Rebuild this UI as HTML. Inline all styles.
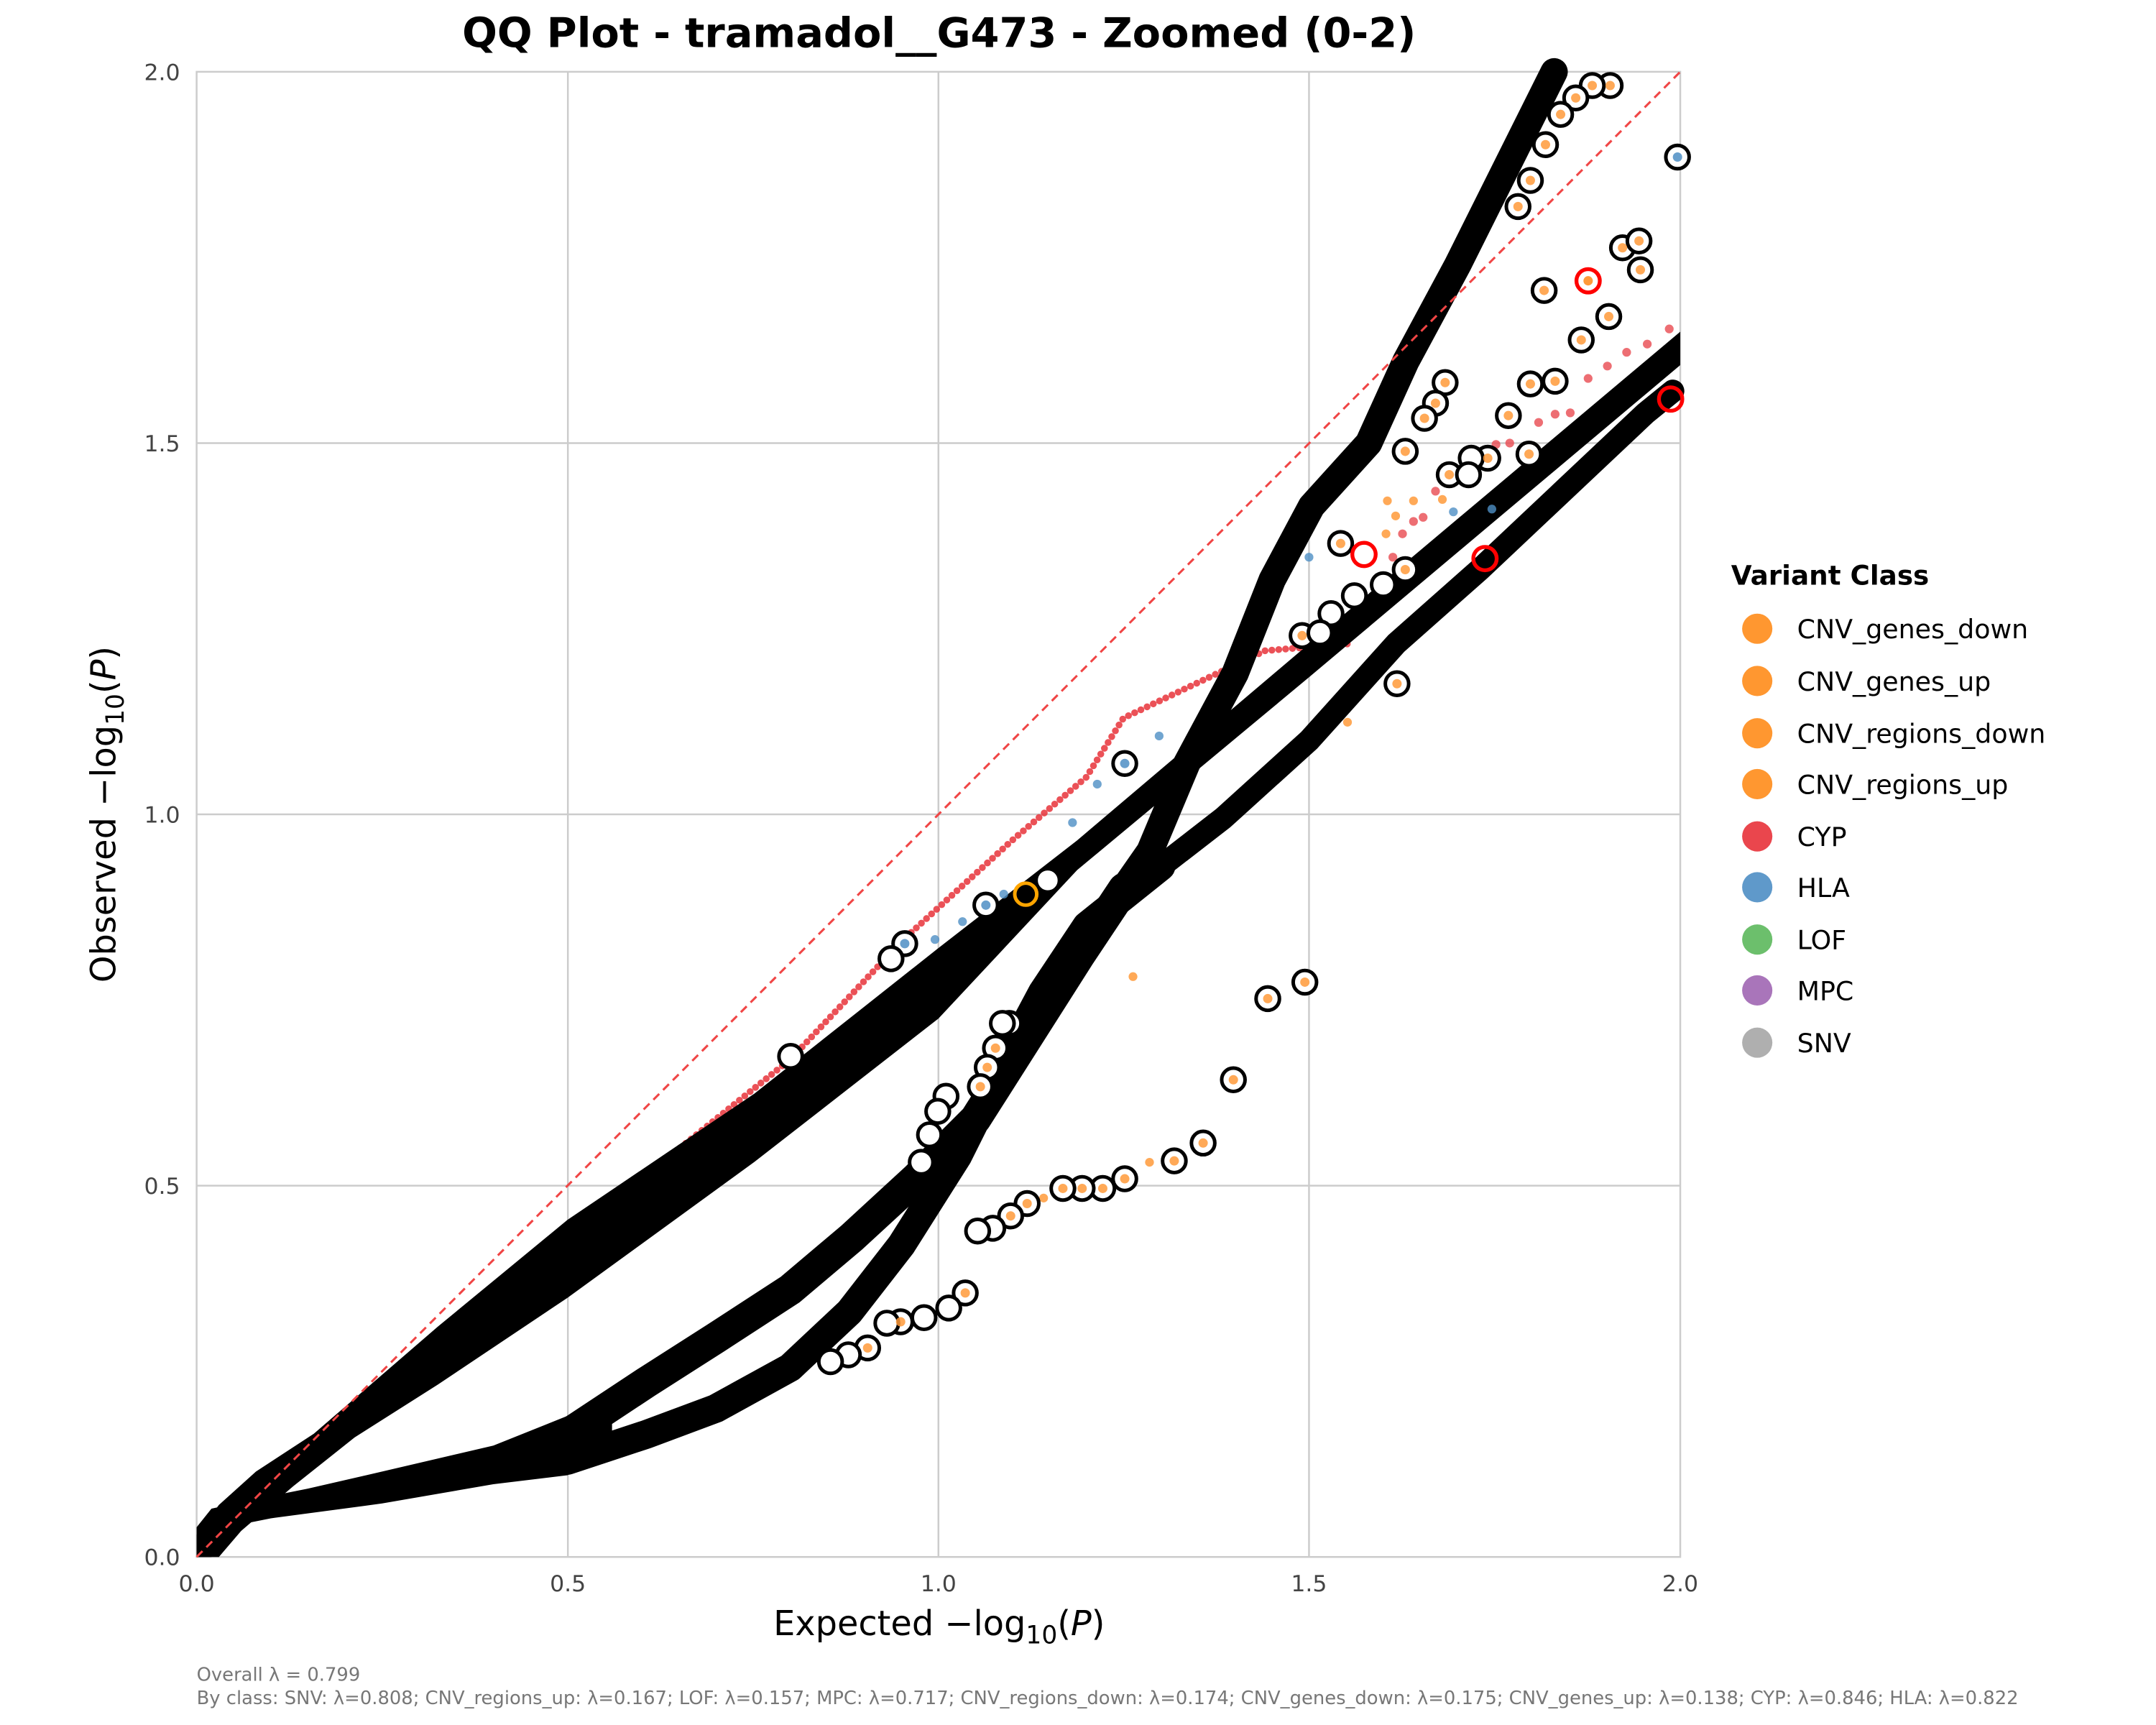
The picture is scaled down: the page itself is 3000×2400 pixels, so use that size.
<!DOCTYPE html>
<html><head><meta charset="utf-8"><style>html,body{margin:0;padding:0;background:#fff}svg{display:block}</style></head>
<body>
<svg width="3000" height="2400" viewBox="0 0 1568 1254" xmlns="http://www.w3.org/2000/svg" font-family="DejaVu Sans, Liberation Sans, sans-serif">
<rect width="1568" height="1254" fill="#fff"/>
<g stroke="#cccccc" stroke-width="1.3">
<line x1="413" y1="52" x2="413" y2="1132"/><line x1="682.5" y1="52" x2="682.5" y2="1132"/><line x1="952" y1="52" x2="952" y2="1132"/>
<line x1="143" y1="862" x2="1222" y2="862"/><line x1="143" y1="592" x2="1222" y2="592"/><line x1="143" y1="322" x2="1222" y2="322"/>
<rect x="143" y="52" width="1079" height="1080" fill="none"/>
</g>
<polyline fill="none" stroke="#e8323a" stroke-opacity="0.85" stroke-width="5" stroke-linecap="round" stroke-dasharray="0 5" points="305,981 413,894 494,835 575,770 656,684 736,611 790,565 817,522 920,473 980,468"/>
<g transform="matrix(539.5 0 0 -540 143 1132)">
<polygon fill="#000" points="0,0.03 0.03,0.07 0.08,0.115 0.158,0.166 0.325,0.31 0.5,0.454 0.752,0.624 1.0,0.82 1.187,0.965 1.5,1.23 1.75,1.44 2,1.65 2,1.605 1.75,1.395 1.5,1.185 1.187,0.925 1.0,0.725 0.752,0.532 0.5,0.349 0.325,0.232 0.213,0.161 0.13,0.095 0.06,0.035 0.03,0 0,0"/>
<polygon fill="#000" points="0,0.04 0.02,0.065 0.08,0.078 0.15,0.092 0.25,0.115 0.4,0.15 0.5,0.19 0.56,0.215 0.56,0.14 0.5,0.11 0.4,0.098 0.25,0.072 0.1,0.052 0.04,0.04 0.02,0 0,0"/>
<g fill="none" stroke="#000" stroke-linecap="round" stroke-linejoin="round">
<polyline vector-effect="non-scaling-stroke" stroke-width="44" points="0.5,0.165 0.606,0.235 0.7,0.295 0.8,0.36 0.883,0.43 0.97,0.51 1.05,0.59 1.12,0.7 1.19,0.81 1.25,0.9"/>
<polyline vector-effect="non-scaling-stroke" stroke-width="38" points="1.25,0.9 1.285,0.95 1.335,1.069 1.40,1.19 1.45,1.316 1.503,1.415 1.58,1.50 1.63,1.61 1.7,1.74 1.76,1.86 1.83,2.0"/>
<polyline vector-effect="non-scaling-stroke" stroke-width="40" points="0.5,0.13 0.606,0.165 0.7,0.2 0.8,0.255 0.88,0.33 0.95,0.42 1.026,0.54 1.076,0.64 1.14,0.76 1.2,0.85 1.3,0.93"/>
<polyline vector-effect="non-scaling-stroke" stroke-width="32" points="1.3,0.93 1.384,0.995 1.5,1.1 1.617,1.23 1.73,1.33 1.953,1.54 1.99,1.57"/>
</g>
</g>
<line x1="143" y1="1132" x2="1222" y2="52" stroke="#f04545" stroke-width="1.6" stroke-dasharray="6 4"/>
<g fill="#e84a50" fill-opacity="0.8">
<circle cx="1214" cy="239" r="3.2"/><circle cx="1198" cy="250" r="3.2"/><circle cx="1183" cy="256" r="3.2"/><circle cx="1169" cy="266" r="3.2"/><circle cx="1155" cy="275" r="3.2"/><circle cx="1142" cy="300" r="3.2"/><circle cx="1131" cy="301" r="3.2"/><circle cx="1119" cy="307" r="3.2"/><circle cx="1098" cy="322" r="3.2"/><circle cx="1088" cy="323" r="3.2"/><circle cx="1044" cy="357" r="3.2"/><circle cx="1035" cy="376" r="3.2"/><circle cx="1028" cy="379" r="3.2"/><circle cx="1020" cy="388" r="3.2"/><circle cx="1013" cy="405" r="3.2"/>
</g>
<g fill="#ff9a3a" fill-opacity="0.85">
<circle cx="1009" cy="364" r="3.2"/><circle cx="1028" cy="364" r="3.2"/><circle cx="1015" cy="375" r="3.2"/><circle cx="1049" cy="363" r="3.2"/><circle cx="1008" cy="388" r="3.2"/><circle cx="980" cy="525" r="3.2"/><circle cx="836" cy="845" r="3.2"/><circle cx="759" cy="871" r="3.2"/><circle cx="824" cy="710" r="3.2"/>
</g>
<g fill="#4e8ec4" fill-opacity="0.8">
<circle cx="1057" cy="372" r="3.2"/><circle cx="1085" cy="370" r="3.2"/><circle cx="843" cy="535" r="3.2"/><circle cx="798" cy="570" r="3.2"/><circle cx="780" cy="598" r="3.2"/><circle cx="730" cy="650" r="3.2"/><circle cx="700" cy="670" r="3.2"/><circle cx="680" cy="683" r="3.2"/><circle cx="952" cy="405" r="3.2"/>
</g>
<g fill="#fff" stroke="#000" stroke-width="2.6">
<circle cx="1171" cy="62" r="8.5"/><circle cx="1158" cy="62" r="8.5"/><circle cx="1146" cy="71" r="8.5"/><circle cx="1135" cy="83" r="8.5"/><circle cx="1124" cy="105" r="8.5"/><circle cx="1113" cy="131" r="8.5"/><circle cx="1104" cy="150" r="8.5"/><circle cx="1220" cy="114" r="8.5"/><circle cx="1180" cy="180" r="8.5"/><circle cx="1192" cy="175" r="8.5"/><circle cx="1193" cy="196" r="8.5"/><circle cx="1123" cy="211" r="8.5"/><circle cx="1170" cy="230" r="8.5"/><circle cx="1150" cy="247" r="8.5"/><circle cx="1113" cy="279" r="8.5"/><circle cx="1131" cy="277" r="8.5"/><circle cx="1097" cy="302" r="8.5"/><circle cx="1112" cy="330" r="8.5"/><circle cx="1082" cy="333" r="8.5"/><circle cx="1070" cy="333" r="8.5"/><circle cx="1054" cy="345" r="8.5"/><circle cx="1068" cy="345" r="8.5"/><circle cx="1051" cy="278" r="8.5"/><circle cx="1044" cy="293" r="8.5"/><circle cx="1036" cy="304" r="8.5"/><circle cx="1022" cy="328" r="8.5"/>
<circle cx="1016" cy="497" r="8.5"/><circle cx="975" cy="395" r="8.5"/><circle cx="947" cy="462" r="8.5"/><circle cx="968" cy="446" r="8.5"/><circle cx="985" cy="433" r="8.5"/><circle cx="1006" cy="425" r="8.5"/><circle cx="1022" cy="414" r="8.5"/><circle cx="960" cy="460" r="8.5"/>
<circle cx="949" cy="714" r="8.5"/><circle cx="922" cy="726" r="8.5"/><circle cx="897" cy="785" r="8.5"/><circle cx="875" cy="831" r="8.5"/><circle cx="854" cy="844" r="8.5"/><circle cx="818" cy="857" r="8.5"/><circle cx="802" cy="864" r="8.5"/><circle cx="787" cy="864" r="8.5"/><circle cx="773" cy="864" r="8.5"/><circle cx="747" cy="875" r="8.5"/><circle cx="735" cy="884" r="8.5"/><circle cx="722" cy="893" r="8.5"/><circle cx="711" cy="895" r="8.5"/>
<circle cx="724" cy="762" r="8.5"/><circle cx="718" cy="776" r="8.5"/><circle cx="713" cy="790" r="8.5"/><circle cx="734" cy="744" r="8.5"/><circle cx="729" cy="744" r="8.5"/>
<circle cx="702" cy="940" r="8.5"/><circle cx="690" cy="951" r="8.5"/><circle cx="672" cy="958" r="8.5"/><circle cx="655" cy="961" r="8.5"/><circle cx="645" cy="962" r="8.5"/><circle cx="631" cy="980" r="8.5"/><circle cx="617" cy="985" r="8.5"/><circle cx="604" cy="990" r="8.5"/>
<circle cx="575" cy="768" r="8.5"/><circle cx="658" cy="686" r="8.5"/><circle cx="648" cy="697" r="8.5"/><circle cx="717" cy="658" r="8.5"/><circle cx="818" cy="555" r="8.5"/><circle cx="762" cy="640" r="8.5"/>
<circle cx="688" cy="797" r="8.5"/><circle cx="682" cy="808" r="8.5"/><circle cx="676" cy="825" r="8.5"/><circle cx="670" cy="845" r="8.5"/>
</g>
<g fill="#ff9a3a" fill-opacity="0.85">
<circle cx="1171" cy="62" r="3.4"/><circle cx="1158" cy="62" r="3.4"/><circle cx="1146" cy="71" r="3.4"/><circle cx="1135" cy="83" r="3.4"/><circle cx="1124" cy="105" r="3.4"/><circle cx="1113" cy="131" r="3.4"/><circle cx="1104" cy="150" r="3.4"/><circle cx="1180" cy="180" r="3.4"/><circle cx="1192" cy="175" r="3.4"/><circle cx="1193" cy="196" r="3.4"/><circle cx="1123" cy="211" r="3.4"/><circle cx="1170" cy="230" r="3.4"/><circle cx="1150" cy="247" r="3.4"/><circle cx="1113" cy="279" r="3.4"/><circle cx="1131" cy="277" r="3.4"/><circle cx="1097" cy="302" r="3.4"/><circle cx="1112" cy="330" r="3.4"/><circle cx="1082" cy="333" r="3.4"/><circle cx="1054" cy="345" r="3.4"/><circle cx="1051" cy="278" r="3.4"/><circle cx="1044" cy="293" r="3.4"/><circle cx="1036" cy="304" r="3.4"/><circle cx="1022" cy="328" r="3.4"/><circle cx="1016" cy="497" r="3.4"/><circle cx="975" cy="395" r="3.4"/><circle cx="947" cy="462" r="3.4"/><circle cx="1022" cy="414" r="3.4"/>
<circle cx="949" cy="714" r="3.4"/><circle cx="922" cy="726" r="3.4"/><circle cx="897" cy="785" r="3.4"/><circle cx="875" cy="831" r="3.4"/><circle cx="854" cy="844" r="3.4"/><circle cx="818" cy="857" r="3.4"/><circle cx="802" cy="864" r="3.4"/><circle cx="787" cy="864" r="3.4"/><circle cx="773" cy="864" r="3.4"/><circle cx="747" cy="875" r="3.4"/><circle cx="735" cy="884" r="3.4"/><circle cx="724" cy="762" r="3.4"/><circle cx="718" cy="776" r="3.4"/><circle cx="713" cy="790" r="3.4"/><circle cx="702" cy="940" r="3.4"/><circle cx="655" cy="961" r="3.4"/><circle cx="631" cy="980" r="3.4"/>
</g>
<g fill="#4e8ec4" fill-opacity="0.85"><circle cx="1220" cy="114" r="3.4"/><circle cx="818" cy="555" r="3.4"/><circle cx="717" cy="658" r="3.4"/><circle cx="658" cy="686" r="3.4"/></g>
<circle cx="1155" cy="204" r="8.5" fill="#fff" stroke="#ff0000" stroke-width="2.8"/><circle cx="1155" cy="204" r="3.4" fill="#ff9a3a"/>
<circle cx="992" cy="403" r="8.5" fill="none" stroke="#ff0000" stroke-width="2.8"/>
<circle cx="1215" cy="290" r="8.5" fill="none" stroke="#ff0000" stroke-width="2.8"/>
<circle cx="1080" cy="406" r="8.5" fill="none" stroke="#ff0000" stroke-width="2.8"/>
<circle cx="746" cy="650" r="8" fill="none" stroke="#ffa500" stroke-width="2.6"/>
<g font-size="16.5" fill="#444">
<g text-anchor="middle"><text x="143" y="1157">0.0</text><text x="413" y="1157">0.5</text><text x="682.5" y="1157">1.0</text><text x="952" y="1157">1.5</text><text x="1222" y="1157">2.0</text></g>
<g text-anchor="end"><text x="131" y="1138">0.0</text><text x="131" y="868">0.5</text><text x="131" y="598">1.0</text><text x="131" y="328">1.5</text><text x="131" y="58">2.0</text></g>
</g>
<text x="683" y="34" text-anchor="middle" font-size="30" font-weight="bold">QQ Plot - tramadol__G473 - Zoomed (0-2)</text>
<text x="683" y="1189" text-anchor="middle" font-size="25">Expected −log<tspan font-size="18" dy="6">10</tspan><tspan dy="-6">(</tspan><tspan font-style="italic">P</tspan>)</text>
<text transform="translate(84,592) rotate(-90)" text-anchor="middle" font-size="25">Observed −log<tspan font-size="18" dy="6">10</tspan><tspan dy="-6">(</tspan><tspan font-style="italic">P</tspan>)</text>
<text x="1259" y="425" font-size="19.5" font-weight="bold">Variant Class</text>
<g font-size="19">
<circle cx="1278" cy="457" r="11" fill="#ff8c1a" fill-opacity="0.9"/><text x="1307" y="464">CNV_genes_down</text>
<circle cx="1278" cy="495" r="11" fill="#ff8c1a" fill-opacity="0.9"/><text x="1307" y="502">CNV_genes_up</text>
<circle cx="1278" cy="533" r="11" fill="#ff8c1a" fill-opacity="0.9"/><text x="1307" y="540">CNV_regions_down</text>
<circle cx="1278" cy="570" r="11" fill="#ff8c1a" fill-opacity="0.9"/><text x="1307" y="577">CNV_regions_up</text>
<circle cx="1278" cy="608" r="11" fill="#e8323a" fill-opacity="0.9"/><text x="1307" y="615">CYP</text>
<circle cx="1278" cy="645" r="11" fill="#4e8ec4" fill-opacity="0.9"/><text x="1307" y="652">HLA</text>
<circle cx="1278" cy="683" r="11" fill="#5cb85c" fill-opacity="0.9"/><text x="1307" y="690">LOF</text>
<circle cx="1278" cy="720" r="11" fill="#a066b3" fill-opacity="0.9"/><text x="1307" y="727">MPC</text>
<circle cx="1278" cy="758" r="11" fill="#a6a6a6" fill-opacity="0.9"/><text x="1307" y="765">SNV</text>
</g>
<g font-size="13.5" fill="#777">
<text x="143" y="1222">Overall λ = 0.799</text>
<text x="143" y="1239">By class: SNV: λ=0.808; CNV_regions_up: λ=0.167; LOF: λ=0.157; MPC: λ=0.717; CNV_regions_down: λ=0.174; CNV_genes_down: λ=0.175; CNV_genes_up: λ=0.138; CYP: λ=0.846; HLA: λ=0.822</text>
</g>
</svg>
</body></html>
